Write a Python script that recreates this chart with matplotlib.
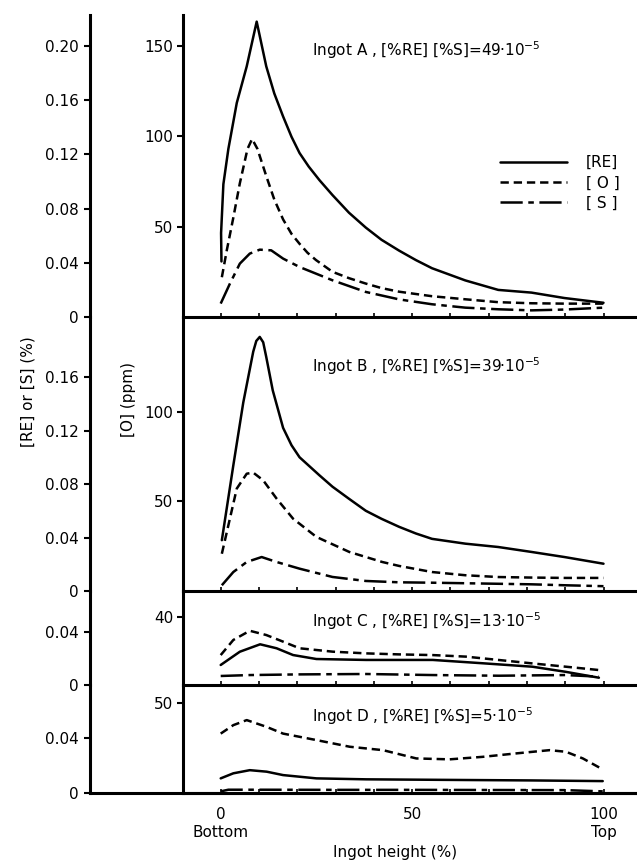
import matplotlib
matplotlib.use("Agg")
import matplotlib.pyplot as plt

plt.rcParams['font.family'] = ['DejaVu Sans']
plt.rcParams['lines.scale_dashes'] = False
plt.rcParams['mathtext.fontset'] = 'dejavusans'

# ---------------- data ----------------
ingots = ["A", "B", "C", "D"]
products = ["49", "39", "13", "5"]

# Panel A
re_a_x = [0.2, 0.1, 0.7, 2.0, 4.2, 6.8, 9.4, 11.9, 14.0, 16.3, 18.5, 20.6, 23.0, 25.8, 29.2, 33.5, 37.9, 42.0, 46.6, 51.0, 55.2, 63.9, 72.5, 81.2, 89.8, 100]
re_a = [0.041, 0.062, 0.098, 0.124, 0.158, 0.185, 0.218, 0.185, 0.165, 0.148, 0.133, 0.121, 0.111, 0.101, 0.090, 0.077, 0.066, 0.057, 0.049, 0.042, 0.036, 0.027, 0.020, 0.018, 0.014, 0.0105]
o_a_x = [0.3, 1.6, 3.3, 5.0, 7.0, 8.2, 9.6, 11.9, 14.0, 16.3, 18.5, 20.6, 22.7, 24.9, 29.2, 33.5, 37.9, 42.0, 46.6, 55.2, 63.9, 72.5, 81.2, 89.8, 100]
o_a = [22, 37, 55, 74, 93, 98.5, 93, 78, 65, 54, 46, 40.5, 35.5, 31.5, 25, 21.5, 18.5, 16, 14, 11.5, 9.8, 8.2, 7.6, 7.4, 7.4]
s_a_x = [0.0, 2.4, 5.0, 7.6, 10.2, 13.2, 16.3, 20.6, 29.2, 37.9, 46.6, 55.2, 63.9, 72.5, 81.2, 89.8, 100]
s_a = [0.0099, 0.0246, 0.0394, 0.0468, 0.0497, 0.0492, 0.0431, 0.0369, 0.0271, 0.0185, 0.013, 0.0094, 0.0069, 0.0057, 0.0049, 0.0055, 0.0069]

# Panel B
re_b_x = [0.3, 3.3, 5.9, 8.5, 9.3, 10.2, 11.1, 11.9, 13.6, 16.3, 18.5, 20.6, 25.8, 29.2, 33.5, 37.9, 42.0, 46.6, 51.0, 55.2, 63.9, 72.5, 81.2, 89.8, 100]
re_b = [0.038, 0.094, 0.141, 0.179, 0.187, 0.190, 0.186, 0.175, 0.150, 0.122, 0.109, 0.100, 0.0865, 0.078, 0.069, 0.060, 0.054, 0.048, 0.043, 0.039, 0.0354, 0.0329, 0.0292, 0.0254, 0.0204]
o_b_x = [0.3, 2.4, 4.2, 6.8, 8.5, 11.1, 14.6, 18.9, 25.0, 33.6, 42.2, 46.6, 55.2, 63.9, 72.5, 81.2, 89.8, 100]
o_b = [20.8, 40.4, 57.2, 65.5, 66.1, 61.8, 51.6, 40.4, 30.2, 21.8, 16.2, 14, 10.6, 8.8, 7.8, 7.5, 7.3, 7.3]
s_b_x = [0.3, 3.3, 6.8, 10.7, 14.6, 20.6, 29.2, 37.9, 46.6, 55.2, 63.9, 72.5, 81.2, 89.8, 100]
s_b = [0.0043, 0.0142, 0.0217, 0.0254, 0.0217, 0.0167, 0.0105, 0.0075, 0.0065, 0.0062, 0.0058, 0.0054, 0.005, 0.0043, 0.0036]

# Panel C
re_c_x = [0, 5, 10.3, 14.6, 18.9, 25, 38, 55.4, 68.4, 81.4, 90, 98.8]
re_c = [0.0151, 0.0251, 0.0307, 0.0277, 0.0226, 0.0196, 0.0189, 0.0189, 0.0164, 0.0138, 0.010, 0.0055]
o_c_x = [0, 3.3, 7.6, 11.9, 16.3, 20.6, 29.3, 38, 46.7, 55.4, 64, 72.7, 81.4, 90, 98.8]
o_c = [17.6, 26.5, 31.9, 29.4, 25.5, 21.6, 19.6, 18.6, 18.0, 17.6, 16.7, 14.7, 12.7, 10.8, 8.8]
s_c_x = [0, 7.6, 20.6, 38, 55.4, 72.7, 90, 98.8]
s_c = [0.0068, 0.0075, 0.0080, 0.0083, 0.0075, 0.007, 0.0075, 0.0063]

# Panel D
re_d_x = [0, 3.3, 7.6, 12, 16.3, 25, 38, 64, 81, 99.8]
re_d = [0.0107, 0.0144, 0.0167, 0.0156, 0.0131, 0.0107, 0.010, 0.0095, 0.0092, 0.0087]
o_d_x = [0, 3.3, 6.8, 11.9, 16.3, 25, 33.7, 42.4, 51.1, 59.8, 68.5, 77.2, 85.9, 90.2, 94.6, 99.8]
o_d = [33, 37.7, 40.5, 36.8, 33, 29.4, 25.7, 23.8, 19.2, 18.7, 20.1, 22, 23.8, 22.9, 19.2, 13.1]
s_d_x = [0, 2, 10, 30, 50, 70, 90, 99.8]
s_d = [0.0012, 0.0024, 0.0024, 0.0023, 0.0023, 0.0022, 0.0021, 0.0012]

pct_ticks = [[0, 0.04, 0.08, 0.12, 0.16, 0.20], [0, 0.04, 0.08, 0.12, 0.16], [0, 0.04], [0, 0.04]]
pct_labels = [["0", "0.04", "0.08", "0.12", "0.16", "0.20"], ["0", "0.04", "0.08", "0.12", "0.16"], ["0", "0.04"], ["0", "0.04"]]
ppm_ticks = [[50, 100, 150], [50, 100], [40], [50]]
x_major = [0, 50, 100]
x_major_labels = ["0\nBottom", "50", "100\nTop"]
legend_labels = ["[RE]", "[ O ]", "[ S ]"]

re_x = [re_a_x, re_b_x, re_c_x, re_d_x]
re_v = [re_a, re_b, re_c, re_d]
o_x = [o_a_x, o_b_x, o_c_x, o_d_x]
o_v = [o_a, o_b, o_c, o_d]
s_x = [s_a_x, s_b_x, s_c_x, s_d_x]
s_v = [s_a, s_b, s_c, s_d]

# ---------------- layout ----------------
W, H = 637, 861
fig = plt.figure(figsize=(W / 100, H / 100), dpi=100)
fig.patch.set_facecolor('white')

def rect(x0, y0, x1, y1):
    return [x0 / W, 1 - y1 / H, (x1 - x0) / W, (y1 - y0) / H]

PX_UNIT = 3.828
X0PX = 220.7
OUT_L, IN_L, RIGHT = 90, 183, 637
xlim_out = ((OUT_L - X0PX) / PX_UNIT, (RIGHT - X0PX) / PX_UNIT)
xlim_in = ((IN_L - X0PX) / PX_UNIT, (RIGHT - X0PX) / PX_UNIT)

bounds = [(15, 317), (317, 591), (591, 685), (685, 793)]
pct_top = [0.2229, 0.2049, 0.0709, 0.0790]
ppm_top = [167.1, 153.0, 55.3, 60.0]
title_y = [50, 366, 621, 716]

SPINE_LW = 2.2
LW = 1.8
O_DASH = (0, (6, 3.5))
S_DASH = (0, (16, 4, 4, 4))

for i in range(4):
    top, bot = bounds[i]
    axo = fig.add_axes(rect(OUT_L, top, RIGHT, bot))
    axo.patch.set_visible(False)
    axo.set_xlim(*xlim_out)
    axo.set_ylim(0, pct_top[i])
    for s in ['top', 'right']:
        axo.spines[s].set_visible(False)
    axo.spines['bottom'].set_visible(i == 3)
    axo.spines['bottom'].set_linewidth(SPINE_LW)
    axo.spines['left'].set_linewidth(SPINE_LW)
    axo.set_yticks(pct_ticks[i])
    axo.set_yticklabels(pct_labels[i])
    axo.set_xticks([])
    axo.tick_params(axis='y', direction='out', length=4, width=1.5, pad=4, labelsize=11)
    l_re, = axo.plot(re_x[i], re_v[i], color='black', lw=LW, ls='-',
                     solid_capstyle='round', solid_joinstyle='round')
    l_s, = axo.plot(s_x[i], s_v[i], color='black', lw=LW, ls=S_DASH, dash_joinstyle='round')

    axi = fig.add_axes(rect(IN_L, top, RIGHT, bot))
    axi.patch.set_visible(False)
    axi.set_xlim(*xlim_in)
    axi.set_ylim(0, ppm_top[i])
    for s in ['top', 'right']:
        axi.spines[s].set_visible(False)
    axi.spines['left'].set_linewidth(SPINE_LW)
    axi.spines['bottom'].set_linewidth(SPINE_LW)
    axi.set_yticks(ppm_ticks[i])
    axi.tick_params(axis='y', direction='out', length=4, width=1.5, pad=3, labelsize=11)
    axi.set_xticks(x_major)
    axi.set_xticks(range(0, 101, 10), minor=True)
    axi.tick_params(axis='x', which='both', direction='in', length=3, width=1.2)
    if i == 3:
        axi.set_xticklabels(x_major_labels, fontsize=11, linespacing=1.3)
        axi.tick_params(axis='x', pad=10)
    else:
        axi.set_xticklabels([])
    l_o, = axi.plot(o_x[i], o_v[i], color='black', lw=LW, ls=O_DASH, dash_joinstyle='round')

    fig.text(312 / W, 1 - title_y[i] / H,
             "Ingot %s , [%%RE] [%%S]=%s\u00b710$^{-5}$" % (ingots[i], products[i]),
             ha='left', va='center', fontsize=11)

    if i == 0:
        axi.legend([l_re, l_o, l_s], legend_labels, loc='upper left',
                   bbox_to_anchor=(500 / W, 1 - 155 / H), bbox_transform=fig.transFigure,
                   frameon=False, fontsize=11, handlelength=4.4, handletextpad=1.2,
                   labelspacing=0.35, borderpad=0, borderaxespad=0)

fig.text(28 / W, 1 - 392 / H, "[RE] or [S] (%)", rotation=90, ha='center', va='center', fontsize=11)
fig.text(128 / W, 1 - 400 / H, "[O] (ppm)", rotation=90, ha='center', va='center', fontsize=11)
fig.text(395 / W, 1 - 852 / H, "Ingot height (%)", ha='center', va='center', fontsize=11)

fig.savefig("out.png", dpi=100, facecolor='white')
